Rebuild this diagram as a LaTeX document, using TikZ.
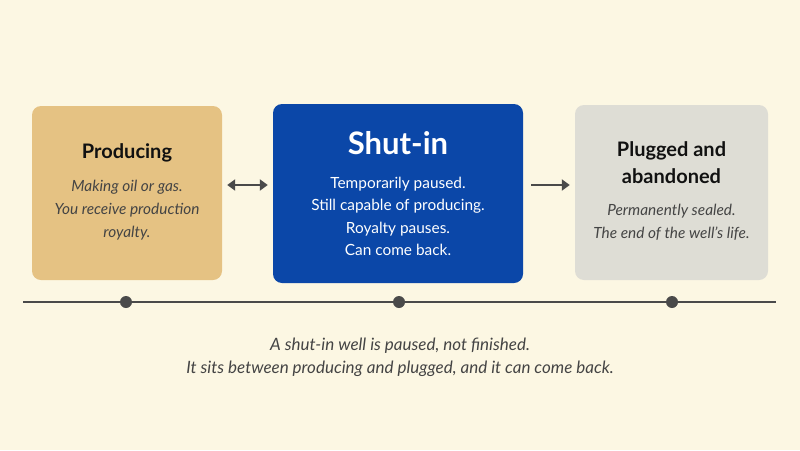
\documentclass[tikz,border=0pt]{standalone}
\usepackage{fontspec}
\setmainfont{Lato}
\usetikzlibrary{arrows.meta}
\definecolor{bg}{HTML}{FCF7E3}
\definecolor{prodfill}{HTML}{E5C283}
\definecolor{shutfill}{HTML}{0B47A8}
\definecolor{plugfill}{HTML}{DEDDD5}
\definecolor{ink}{HTML}{111111}
\definecolor{body}{HTML}{444444}
\definecolor{linec}{HTML}{4A4A4A}
\tikzset{
  stagebox/.style={rounded corners=9pt, minimum width=#1, inner sep=0pt},
  ttl/.style={text=ink, font=\bfseries\fontsize{20}{27}\selectfont, align=center, inner sep=0pt},
  bodyit/.style={text=body, font=\itshape\fontsize{15.4}{23}\selectfont, align=center, inner sep=0pt},
  conn/.style={draw=linec, line width=2.4pt},
  tip/.style={},
  dot/.style={circle, fill=linec, minimum size=12pt, inner sep=0pt},
}
\begin{document}
\begin{tikzpicture}[x=1pt,y=-1pt]
\fill[bg] (0,0) rectangle (800,450);
\useasboundingbox (0,0) rectangle (800,450);
% boxes
\node[stagebox=190pt, minimum height=174pt, fill=prodfill] (prod) at (127,193) {};
\node[stagebox=250pt, minimum height=179pt, fill=shutfill] (shut) at (398,193.5) {};
\node[stagebox=193pt, minimum height=175pt, fill=plugfill] (plug) at (671.5,192.5) {};
% texts
\node[ttl] (prodt) at (127,153) {Producing};
\node[bodyit] (prodb) at (127,210.5) {Making oil or gas.\\You receive production\\royalty.};
\node[ttl, text=white, font=\bfseries\fontsize{31}{36}\selectfont] (shutt) at (398,143) {Shut-in};
\node[bodyit, text=white, font=\fontsize{15.4}{22.3}\selectfont] (shutb) at (398,216.5) {Temporarily paused.\\Still capable of producing.\\Royalty pauses.\\Can come back.};
\node[ttl] (plugt) at (671.5,162.5) {Plugged and\\abandoned};
\node[bodyit] (plugb) at (671.5,222) {Permanently sealed.\\The end of the well's life.};
% arrows
\draw[conn, {Triangle[length=8pt,width=11pt]}-{Triangle[length=8pt,width=11pt]}] ([xshift=5pt]prod.east |- 0,185) -- ([xshift=-5pt]shut.west |- 0,185);
\draw[conn, -{Triangle[length=8pt,width=11pt]}] ([xshift=8pt]shut.east |- 0,185) -- ([xshift=-5pt]plug.west |- 0,185);
% timeline
\coordinate (tl) at (23,302);
\coordinate (tr) at (776,302);
\draw[linec, line width=2.5pt] (tl) -- (tr);
\node[dot] (d1) at (126,302) {};
\node[dot] (d2) at (399,302) {};
\node[dot] (d3) at (672,302) {};
% caption
\node[bodyit, font=\itshape\fontsize{17}{23}\selectfont] (cap) at (400,357.5) {A shut-in well is paused, not finished.\\It sits between producing and plugged, and it can come back.};
\end{tikzpicture}
\end{document}
